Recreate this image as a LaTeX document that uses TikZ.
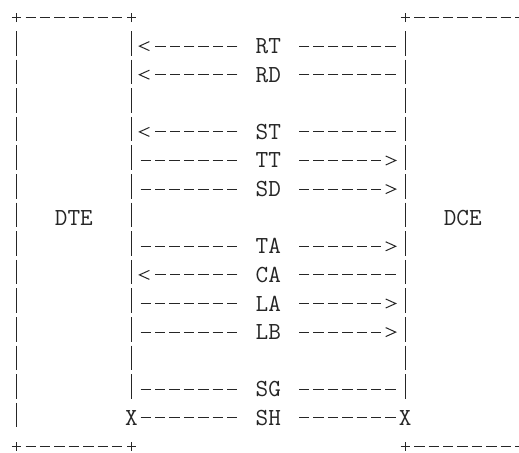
\documentclass[tikz,border=0pt]{standalone}
\usepackage{fontspec}
\usepackage{xcolor}
\usepackage{tikz}
\definecolor{ink}{HTML}{262626}
\tikzset{
  hrule/.style={draw=ink, line width=1pt, dash pattern=on 10.4pt off 4pt},
  vbar/.style={draw=ink, line width=1pt, dash pattern=on 24.6pt off 4pt, shorten <=-15pt, shorten >=-10pt},
  sig/.style={hrule, shorten <=9.2pt, shorten >=9.2pt},
  asig/.style={hrule, shorten <=9.2pt, shorten >=23.6pt},
  head/.style={draw=ink, line width=1pt, solid},
  lab/.style={text=ink, font=\ttfamily\fontsize{24.5}{29}\selectfont, inner sep=0pt},
  labf/.style={lab, fill=white, minimum width=60pt},
  lt/.pic={\draw[head] (3.5pt,4.5pt) -- (-6.5pt,0pt) -- (3.5pt,-4.5pt);},
  gt/.pic={\draw[head] (-5pt,4.5pt) -- (5pt,0pt) -- (-5pt,-4.5pt);},
  corner/.pic={\draw[head] (-4.5pt,0pt) -- (4.5pt,0pt) (0pt,-4.5pt) -- (0pt,4.5pt);},
}

\begin{document}
\begin{tikzpicture}[x=14.4pt, y=-28.6pt]
  \useasboundingbox (-1.132,-0.612) rectangle (34.91,15.227);
  \clip (-1.132,-0.612) rectangle (34.91,15.227);
  \fill[white] (-1.132,-0.612) rectangle (34.91,15.227);
  % DTE box
  \draw[sig] (0,0) -- (8,0);
  \draw[sig] (0,15) -- (8,15);
  \draw[vbar] (0,1) -- (0,14);
  \draw[vbar] (8,1) -- (8,13);
  \pic at (0,0) {corner};
  \pic at (8,0) {corner};
  \pic at (0,15) {corner};
  \pic at (8,15) {corner};
  \node[lab] (dte) at (4,7) {DTE};
  % DCE box
  \draw[hrule, shorten <=9.2pt] (27,0) -- (36,0);
  \draw[hrule, shorten <=9.2pt] (27,15) -- (36,15);
  \draw[vbar] (27,1) -- (27,13);
  \pic at (27,0) {corner};
  \pic at (27,15) {corner};
  \node[lab] (dce) at (31,7) {DCE};
  % interchange circuits
  \coordinate (dteRT) at (8,1);  \coordinate (dceRT) at (27,1);
  \coordinate (dteRD) at (8,2);  \coordinate (dceRD) at (27,2);
  \coordinate (dteST) at (8,4);  \coordinate (dceST) at (27,4);
  \coordinate (dteTT) at (8,5);  \coordinate (dceTT) at (27,5);
  \coordinate (dteSD) at (8,6);  \coordinate (dceSD) at (27,6);
  \coordinate (dteTA) at (8,8);  \coordinate (dceTA) at (27,8);
  \coordinate (dteCA) at (8,9);  \coordinate (dceCA) at (27,9);
  \coordinate (dteLA) at (8,10); \coordinate (dceLA) at (27,10);
  \coordinate (dteLB) at (8,11); \coordinate (dceLB) at (27,11);
  \coordinate (dteSG) at (8,13); \coordinate (dceSG) at (27,13);
  \node[lab] (shL) at (8,14) {X};
  \node[lab] (shR) at (27,14) {X};
  \draw[asig] (dceRT) -- node[labf] (lRT) {RT} (dteRT);
  \draw[asig] (dceRD) -- node[labf] (lRD) {RD} (dteRD);
  \draw[asig] (dceST) -- node[labf] (lST) {ST} (dteST);
  \draw[asig] (dteTT) -- node[labf] (lTT) {TT} (dceTT);
  \draw[asig] (dteSD) -- node[labf] (lSD) {SD} (dceSD);
  \draw[asig] (dteTA) -- node[labf] (lTA) {TA} (dceTA);
  \draw[asig] (dceCA) -- node[labf] (lCA) {CA} (dteCA);
  \draw[asig] (dteLA) -- node[labf] (lLA) {LA} (dceLA);
  \draw[asig] (dteLB) -- node[labf] (lLB) {LB} (dceLB);
  \draw[sig] (dteSG) -- node[labf] (lSG) {SG} (dceSG);
  \draw[sig] (shL.center) -- node[labf] (lSH) {SH} (shR.center);
  \pic at (9,1) {lt};
  \pic at (9,2) {lt};
  \pic at (9,4) {lt};
  \pic at (26,5) {gt};
  \pic at (26,6) {gt};
  \pic at (26,8) {gt};
  \pic at (9,9) {lt};
  \pic at (26,10) {gt};
  \pic at (26,11) {gt};
\end{tikzpicture}
\end{document}
